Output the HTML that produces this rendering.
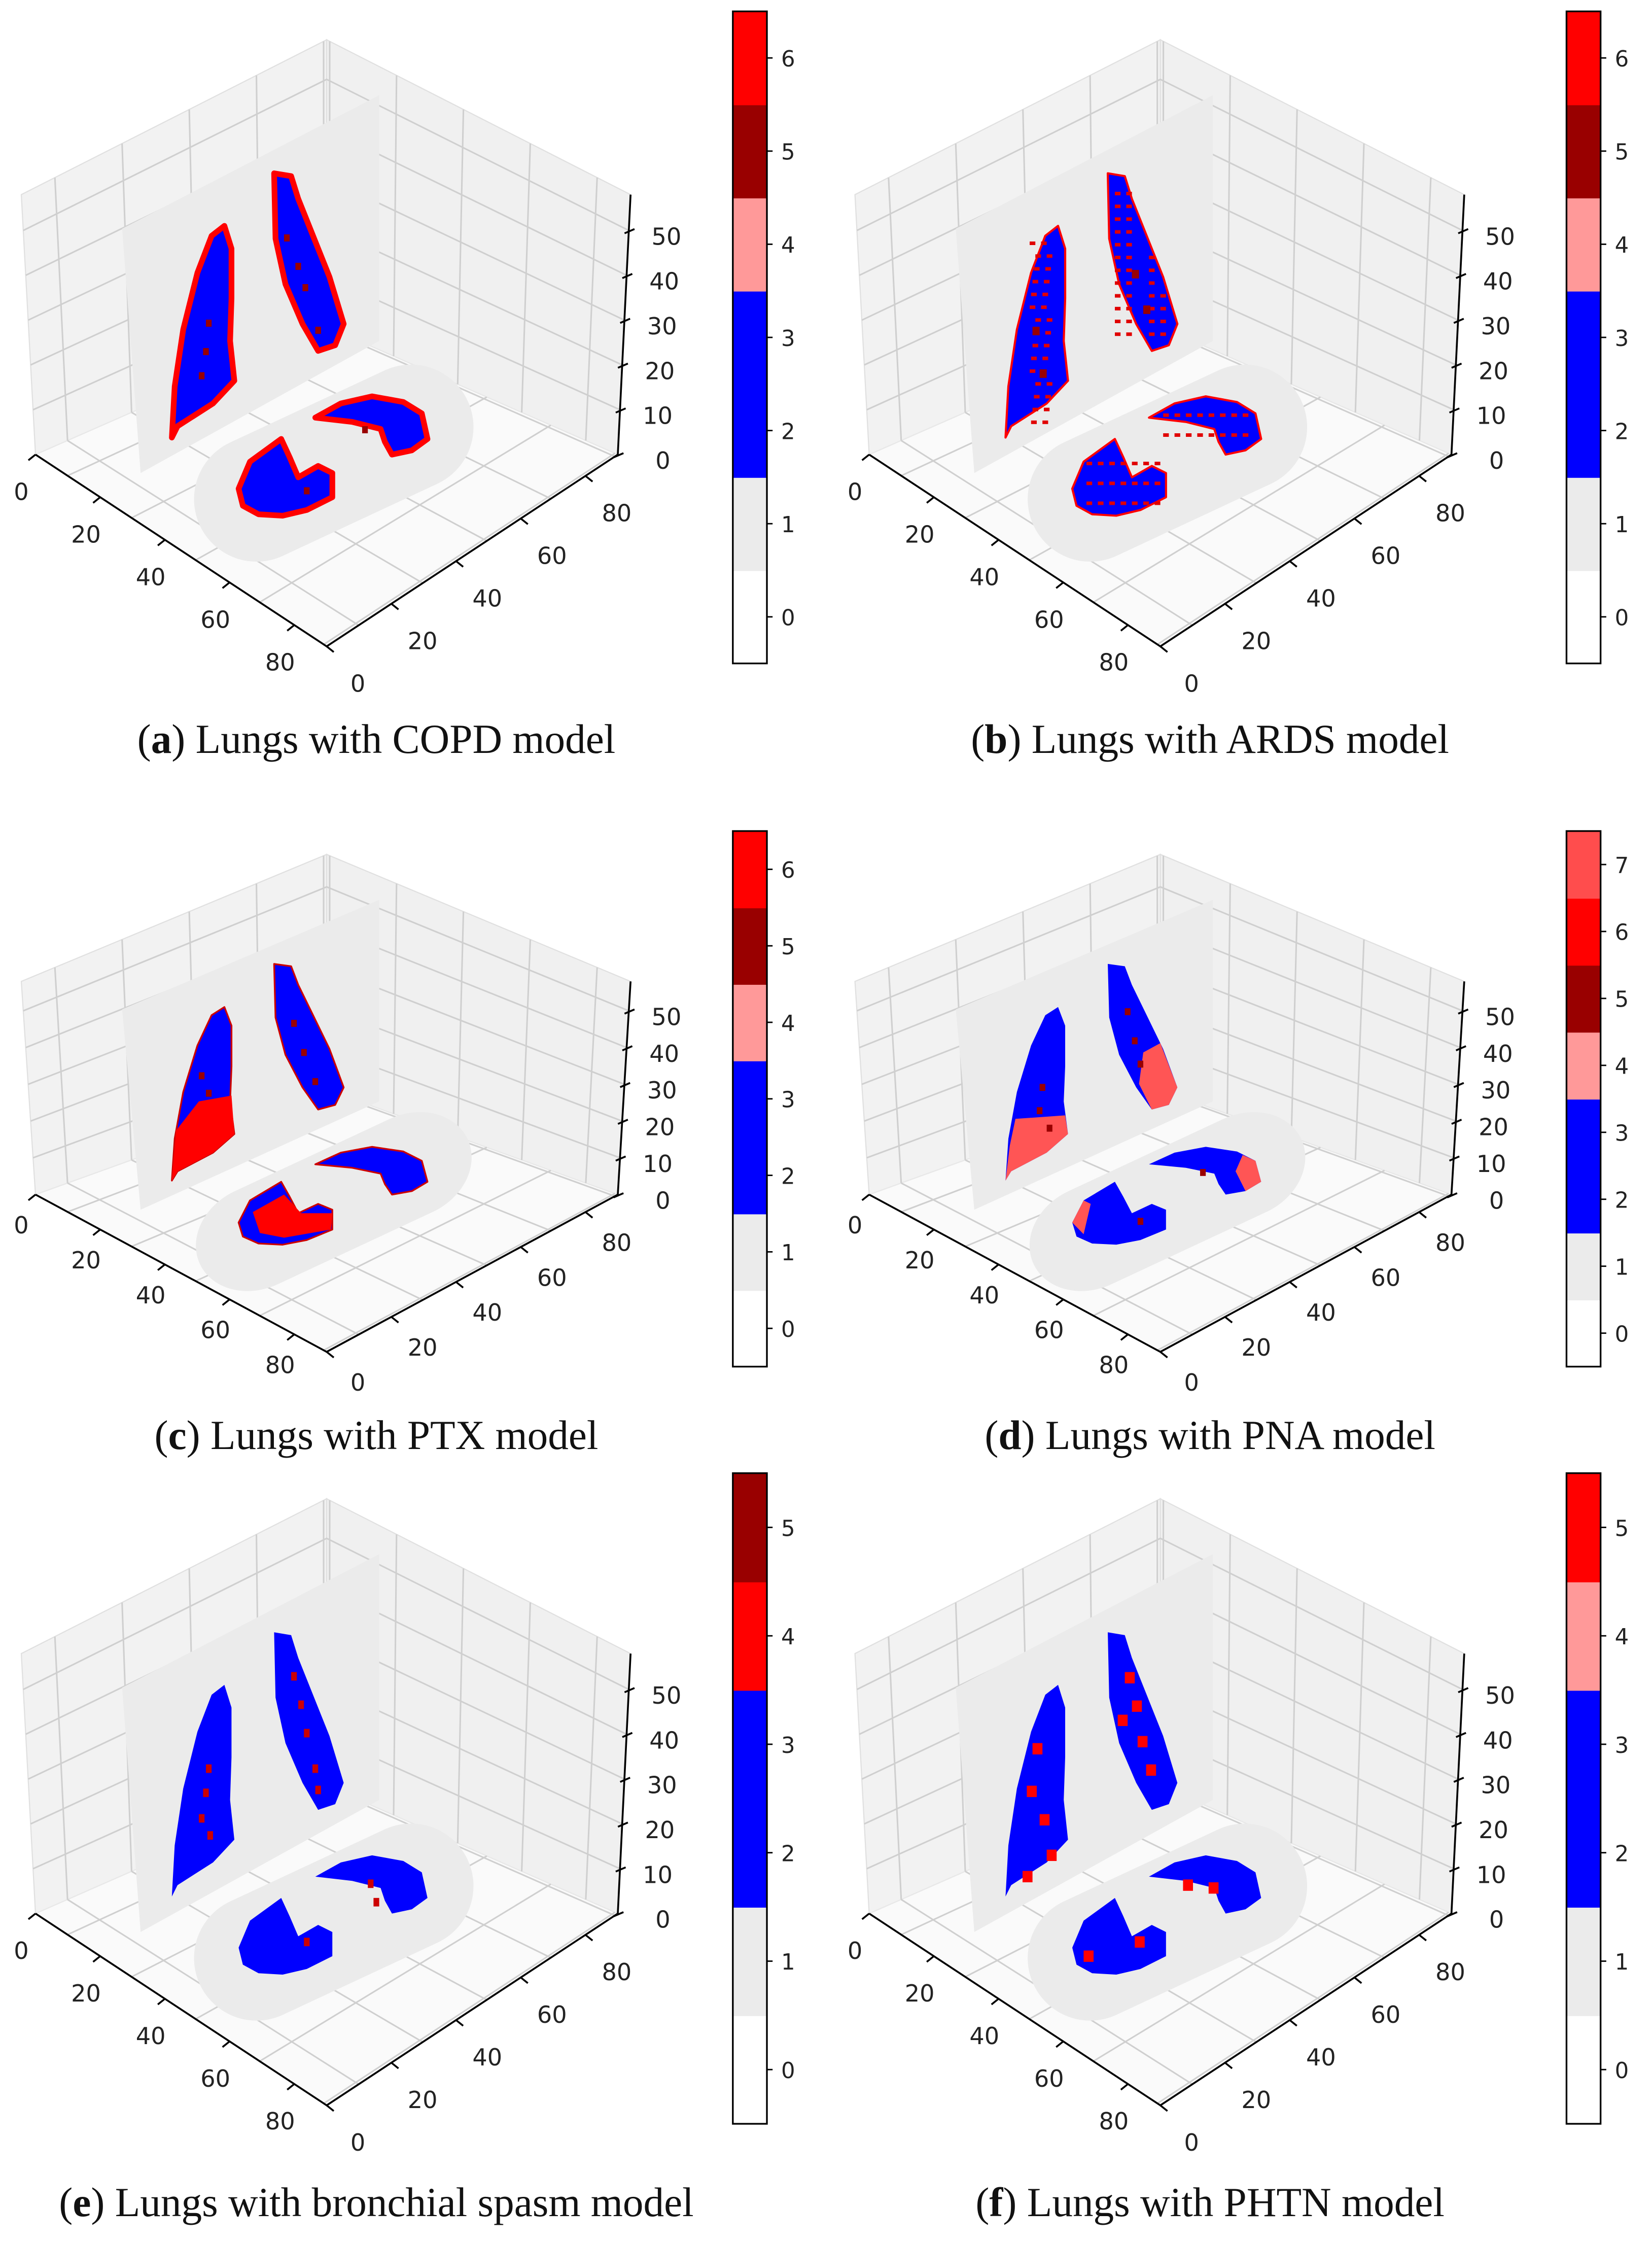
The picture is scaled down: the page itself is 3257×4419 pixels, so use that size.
<!DOCTYPE html>
<html><head><meta charset="utf-8"><title>Lung models</title>
<style>html,body{margin:0;padding:0;background:#fff}svg{display:block}</style></head>
<body>
<svg id="fig" xmlns="http://www.w3.org/2000/svg" width="3257" height="4419" viewBox="0 0 1163.2 1578.2"></svg>
<script>
// ---- data ----
const panelLetters = ['a','b','c','d','e','f'];
const panelTitles = ['Lungs with COPD model','Lungs with ARDS model','Lungs with PTX model','Lungs with PNA model','Lungs with bronchial spasm model','Lungs with PHTN model'];
const cbLevelsA = ['#ffffff','#ebebeb','#0000ff','#0000ff','#ff9999','#990000','#ff0000'];
const cbLevelsB = ['#ffffff','#ebebeb','#0000ff','#0000ff','#ff9999','#990000','#ff0000'];
const cbLevelsC = ['#ffffff','#ebebeb','#0000ff','#0000ff','#ff9999','#990000','#ff0000'];
const cbLevelsD = ['#ffffff','#ebebeb','#0000ff','#0000ff','#ff9999','#990000','#ff0000','#ff4d4d'];
const cbLevelsE = ['#ffffff','#ebebeb','#0000ff','#0000ff','#ff0000','#990000'];
const cbLevelsF = ['#ffffff','#ebebeb','#0000ff','#0000ff','#ff9999','#ff0000'];
const xTicks = [0,20,40,60,80];
const yTicks = [0,20,40,60,80];
const zTicks = [0,10,20,30,40,50];
// ---- layout ----
const NS='http://www.w3.org/2000/svg';
const svg=document.getElementById('fig');
function el(tag,attrs,parent){const e=document.createElementNS(NS,tag);for(const k in attrs)e.setAttribute(k,attrs[k]);(parent||svg).appendChild(e);return e;}
const levels=[cbLevelsA,cbLevelsB,cbLevelsC,cbLevelsD,cbLevelsE,cbLevelsF];
const rows=[{z0:325,sy:1,cb:[8,467],cap:518},{z0:845,sy:0.82,cb:[585,962],cap:1008},{z0:1352,sy:1,cb:[1037,1495],cap:1548}];
const cols=[0,587];
const capX=[265,855];
function lerp(a,b,t){return [a[0]+(b[0]-a[0])*t,a[1]+(b[1]-a[1])*t];}
const Lb=[25,320],Fr=[230,455],Rb=[435,320],Bk=[230,230],Bt=[230,28],Lt=[15,137],Rt=[444,137];
function xAxis(v){return lerp(Lb,Fr,v/90);}
function yAxis(v){return lerp(Fr,Rb,v/90);}
function zAxis(v){return lerp(Rb,Rt,v/58);}
const lungL=[[121,308],[123,272],[129,232],[139,192],[149,166],[158,159],[163,175],[163,210],[162,240],[165,268],[150,284],[125,300]];
const lungR=[[193,122],[205,124],[210,140],[220,165],[232,195],[242,228],[236,243],[224,247],[213,228],[201,200],[194,168]];
const floorL=[[168,344],[176,325],[198,309],[204,322],[210,336],[224,328],[234,333],[234,350],[216,359],[199,363],[182,362],[171,356]];
const floorR=[[222,294],[240,284],[262,279],[284,283],[297,291],[301,309],[290,317],[276,320],[271,311],[268,302],[248,297]];
function panel(i){
  const r=rows[Math.floor(i/2)],ox=cols[i%2];
  const P=p=>[ox+p[0],r.z0+(p[1]-325)*r.sy];
  const pts=a=>a.map(p=>P(p).join(',')).join(' ');
  const g=el('g',{});
  
  
  const lw=el('polygon',{points:pts([Lb,Bk,Bt,Lt]),fill:'#f2f2f2',stroke:'#e0e0e0','stroke-width':0.8},g);
  
  const rw=el('polygon',{points:pts([Bk,Rb,Rt,Bt]),fill:'#f0f0f0',stroke:'#e0e0e0','stroke-width':0.8},g);
  
  const fl=el('polygon',{points:pts([Lb,Bk,Rb,Fr]),fill:'#fafafa',stroke:'#e8e8e8','stroke-width':0.8},g);
  
  const gl=el('g',{stroke:'#cfcfcf','stroke-width':1.1,fill:'none'},g);
  
  for(const t of [0.11,0.33,0.55,0.77,0.99]){
    let a=lerp(Lb,Bk,t),b=lerp(Lt,Bt,t); el('line',{x1:P(a)[0],y1:P(a)[1],x2:P(b)[0],y2:P(b)[1]},gl);
    a=lerp(Bk,Rb,1-t);b=lerp(Bt,Rt,1-t); el('line',{x1:P(a)[0],y1:P(a)[1],x2:P(b)[0],y2:P(b)[1]},gl);
    a=lerp(Lb,Fr,t);b=lerp(Bk,Rb,t); el('line',{x1:P(a)[0],y1:P(a)[1],x2:P(b)[0],y2:P(b)[1]},gl);
    a=lerp(Fr,Rb,t);b=lerp(Lb,Bk,t); el('line',{x1:P(a)[0],y1:P(a)[1],x2:P(b)[0],y2:P(b)[1]},gl);
  }
  for(const v of zTicks.slice(1)){const t=v/58;
    let a=lerp(Lb,Lt,t),b=lerp(Bk,Bt,t),c=lerp(Rb,Rt,t);
    el('polyline',{points:[P(a),P(b),P(c)].map(p=>p.join(',')).join(' ')},gl);}
  const sh=el('polygon',{points:pts([[86,161],[267,67],[267,240],[99,333]]),fill:'#ebebeb'},g);
  
  const c=P([235,326]);
  const st=el('rect',{x:c[0]-104,y:c[1]-44*r.sy,width:208,height:88*r.sy,rx:44,ry:44*r.sy,fill:'#ebebeb',transform:`rotate(-25 ${c[0]} ${c[1]})`},g);
  
  const edge={0:['#ff0000',4],1:['#ff0000',1.5],2:['#cc0000',1.2],3:['none',0],4:['none',0],5:['none',0]}[i];
  [lungL,lungR,floorL,floorR].forEach((L,k)=>{
    const lg=el('polygon',{points:pts(L),fill:'#0000ff',stroke:edge[0],'stroke-width':edge[1],'stroke-linejoin':'round'},g);
    
    
  });
  const dec=el('g',{},g);
  
  const blobs=(list,col,w,h)=>list.forEach(p=>{const q=P(p);el('rect',{x:q[0],y:q[1],width:w,height:h*r.sy,fill:col},dec);});
  if(i===0){blobs([[145,225],[143,245],[140,262],[200,165],[208,185],[213,200],[222,230],[214,343],[255,300]],'#990000',4,5);}
  if(i===1){const sp=[];for(let yy=170;yy<300;yy+=9)for(let xx=130;xx<160;xx+=8)if((xx+yy)%3!==0)sp.push([xx+(yy%5),yy]);
    for(let yy=135;yy<235;yy+=9)for(let xx=198;xx<232;xx+=8)if(xx-198<(yy-125)*0.35+5&&(xx+yy)%3!==1)sp.push([xx,yy]);
    for(let yy=318;yy<358;yy+=7)for(let xx=178;xx<228;xx+=8)if((xx+yy)%2)sp.push([xx,yy]);
    for(let yy=284;yy<314;yy+=7)for(let xx=232;xx<292;xx+=8)if((xx+yy)%2)sp.push([xx,yy]);
    blobs(sp,'#e00000',4,2.5);blobs([[140,230],[145,260],[210,190],[218,215]],'#990000',5,6);}
  if(i===2){el('polygon',{points:pts([[121,308],[124,265],[140,240],[163,235],[165,268],[150,284],[125,300]]),fill:'#ff0000'},dec);
    el('polygon',{points:pts([[178,335],[200,320],[212,336],[234,336],[233,350],[200,357],[183,353]]),fill:'#ff0000'},dec);
    blobs([[140,215],[145,230],[205,170],[212,195],[220,220]],'#990000',4,6);}
  if(i===3){el('polygon',{points:pts([[121,308],[124,278],[128,255],[163,252],[165,268],[150,284],[125,300]]),fill:'#ff5555'},dec);
    el('polygon',{points:pts([[218,198],[230,190],[242,228],[236,243],[224,247],[215,225]]),fill:'#ff5555'},dec);
    el('polygon',{points:pts([[288,286],[297,291],[301,309],[290,317],[283,300]]),fill:'#ff5555'},dec);
    el('polygon',{points:pts([[168,344],[176,325],[181,328],[176,354]]),fill:'#ff5555'},dec);
    blobs([[145,225],[143,245],[150,260],[205,160],[210,185],[214,205],[258,298],[214,340]],'#990000',4,6);}
  if(i===4){blobs([[145,215],[143,232],[140,250],[146,262],[205,150],[210,170],[214,190],[220,215],[222,230],[214,337],[259,296],[263,309]],'#cc0000',4,6);}
  if(i===5){blobs([[140,200],[136,230],[145,250],[150,275],[133,290],[205,150],[210,170],[200,180],[214,195],[220,215],[264,298],[246,296],[212,336],[176,346]],'#ff0000',7,8);}
  const ax=el('g',{stroke:'#000','stroke-width':1.3,fill:'none'},g);
  
  el('polyline',{points:[P(Lb),P(Fr),P(Rb),P(Rt)].map(p=>p.join(',')).join(' ')},ax);
  const tx=el('g',{'font-family':'"DejaVu Sans","Liberation Sans",sans-serif','font-size':16.5,fill:'#222'},g);
  
  xTicks.forEach(v=>{const p=P(xAxis(v));el('line',{x1:p[0],y1:p[1],x2:p[0]-5,y2:p[1]+4},ax);
    const t=el('text',{x:p[0]-10,y:p[1]+26*r.sy+6,'text-anchor':'middle'},tx);t.textContent=v;});
  yTicks.forEach(v=>{const p=P(yAxis(v));el('line',{x1:p[0],y1:p[1],x2:p[0]+5,y2:p[1]+4},ax);
    const t=el('text',{x:p[0]+22,y:p[1]+26*r.sy+6,'text-anchor':'middle'},tx);t.textContent=v;});
  zTicks.forEach(v=>{const p=P(zAxis(v));el('line',{x1:p[0]-3,y1:p[1]+2,x2:p[0]+4,y2:p[1]-1},ax);
    const t=el('text',{x:p[0]+37,y:p[1]+10,'text-anchor':'end'},tx);t.textContent=v;});
  const lv=levels[i],cx=ox+516,y0=r.cb[0],y1=r.cb[1],n=lv.length,h=(y1-y0)/n;
  const cb=el('g',{},g);
  
  lv.forEach((col,k)=>{el('rect',{x:cx,y:y1-(k+1)*h,width:24,height:h+0.5,fill:col},cb);
    const yy=y1-(k+0.5)*h;el('line',{x1:cx+24,y1:yy,x2:cx+28,y2:yy,stroke:'#000','stroke-width':1},cb);
    const t=el('text',{x:cx+34,y:yy+6,'font-family':'"DejaVu Sans","Liberation Sans",sans-serif','font-size':15.5,fill:'#222'},cb);t.textContent=k;});
  el('rect',{x:cx,y:y0,width:24,height:y1-y0,fill:'none',stroke:'#000','stroke-width':1.2},cb);
  const cap=el('text',{x:ox+capX[0],y:r.cap+12,'text-anchor':'middle','font-family':'"Liberation Serif",serif','font-size':29,fill:'#111'},g);
  
  cap.appendChild(document.createTextNode('('));
  const b=el('tspan',{'font-weight':'bold'},cap);b.textContent=panelLetters[i];
  cap.appendChild(document.createTextNode(') '+panelTitles[i]));
}
for(let i=0;i<6;i++)panel(i);
</script>
</body></html>
